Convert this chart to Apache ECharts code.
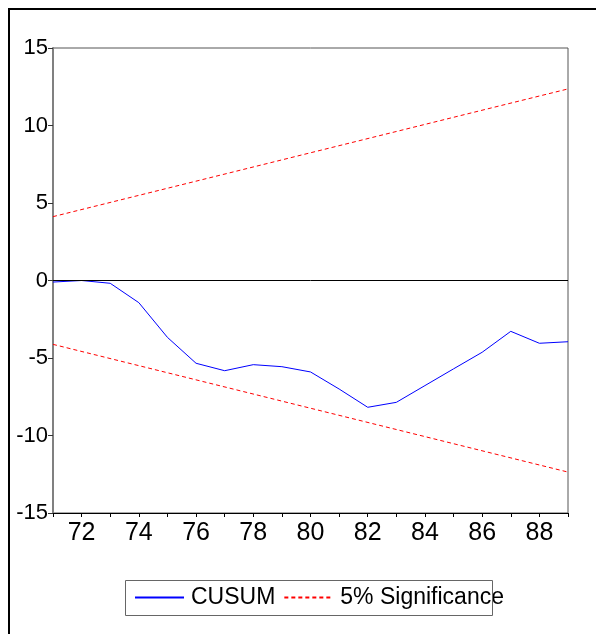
<!DOCTYPE html>
<html>
<head>
<meta charset="utf-8">
<script src="https://cdn.jsdelivr.net/npm/echarts@6/dist/echarts.min.js"></script>
<style>html,body{margin:0;padding:0;background:#fff}#c{width:596px;height:634px}</style>
</head>
<body>
<div id="c"></div>
<script>
var years = [71,72,73,74,75,76,77,78,79,80,81,82,83,84,85,86,87,88,89];
var cusum = [-0.1,0.0,-0.18,-1.43,-3.67,-5.34,-5.82,-5.43,-5.56,-5.9,-7.0,-8.18,-7.86,-6.78,-5.7,-4.63,-3.28,-4.05,-3.95];
var boundYears = [71,89];
var upperBound = [4.12,12.36];
var lowerBound = [-4.12,-12.36];
var yTicks = [-15,-10,-5,0,5,10,15];
var xLabelYears = [72,74,76,78,80,82,84,86,88];
var legendNames = ['CUSUM','5% Significance'];

function pairs(xs, ys){ return xs.map(function(x,i){ return [x, ys[i]]; }); }

var font = 'Liberation Sans, Arial, sans-serif';
var narrow = 'Liberation Sans Narrow, Arial Narrow, Liberation Sans, sans-serif';
var chart = echarts.init(document.getElementById('c'), null, {renderer:'canvas'});
chart.setOption({
  animation:false,
  backgroundColor:'#fff',
  grid:{left:53,right:28,top:48,bottom:121,show:true,borderColor:'#555',borderWidth:1,backgroundColor:'transparent'},
  legend:{left:134,top:586,width:460,itemWidth:49,itemHeight:14,itemGap:8,padding:0,
    itemStyle:{opacity:0},
    textStyle:{fontSize:23,fontFamily:font,color:'#000',padding:[0,0,0,2]},
    data:legendNames},
  xAxis:{type:'value',min:71,max:89,interval:1,
    axisLine:{show:true,onZero:false,lineStyle:{color:'#000',width:1}},
    axisTick:{show:true,inside:false,length:4,lineStyle:{color:'#000'}},
    axisLabel:{margin:8,fontSize:25,fontFamily:narrow,color:'#000',
      formatter:function(v){ return xLabelYears.indexOf(v)>=0 ? String(v) : ''; }},
    splitLine:{show:false}},
  yAxis:{type:'value',min:-15,max:15,interval:5,
    axisLine:{show:true,lineStyle:{color:'#808080',width:2}},
    axisTick:{show:true,length:5,lineStyle:{color:'#333'}},
    axisLabel:{margin:5,fontSize:22,fontFamily:font,color:'#000',
      formatter:function(v){ return yTicks.indexOf(v)>=0 ? String(v) : ''; }},
    splitLine:{show:false}},
  series:[
    {name:legendNames[0],type:'line',data:pairs(years,cusum),symbol:'none',
      lineStyle:{color:'#0000ff',width:1},itemStyle:{color:'#0000ff'},
      markLine:{silent:true,symbol:'none',label:{show:false},
        lineStyle:{color:'#000',type:'solid',width:1},data:[{yAxis:0}]}},
    {name:legendNames[1],type:'line',data:pairs(boundYears,upperBound),symbol:'none',
      lineStyle:{color:'#ff0000',width:1,type:[4,3]},itemStyle:{color:'#ff0000'}},
    {name:legendNames[1],type:'line',data:pairs(boundYears,lowerBound),symbol:'none',
      lineStyle:{color:'#ff0000',width:1,type:[4,3]},itemStyle:{color:'#ff0000'}}
  ],
  graphic:[
    {type:'rect',shape:{x:9,y:9,width:700,height:700},style:{fill:'none',stroke:'#000',lineWidth:2},z:100},
    {type:'rect',shape:{x:125.5,y:580.5,width:367,height:35},style:{fill:'none',stroke:'#666',lineWidth:1},z:100}
  ]
});
</script>
</body>
</html>
